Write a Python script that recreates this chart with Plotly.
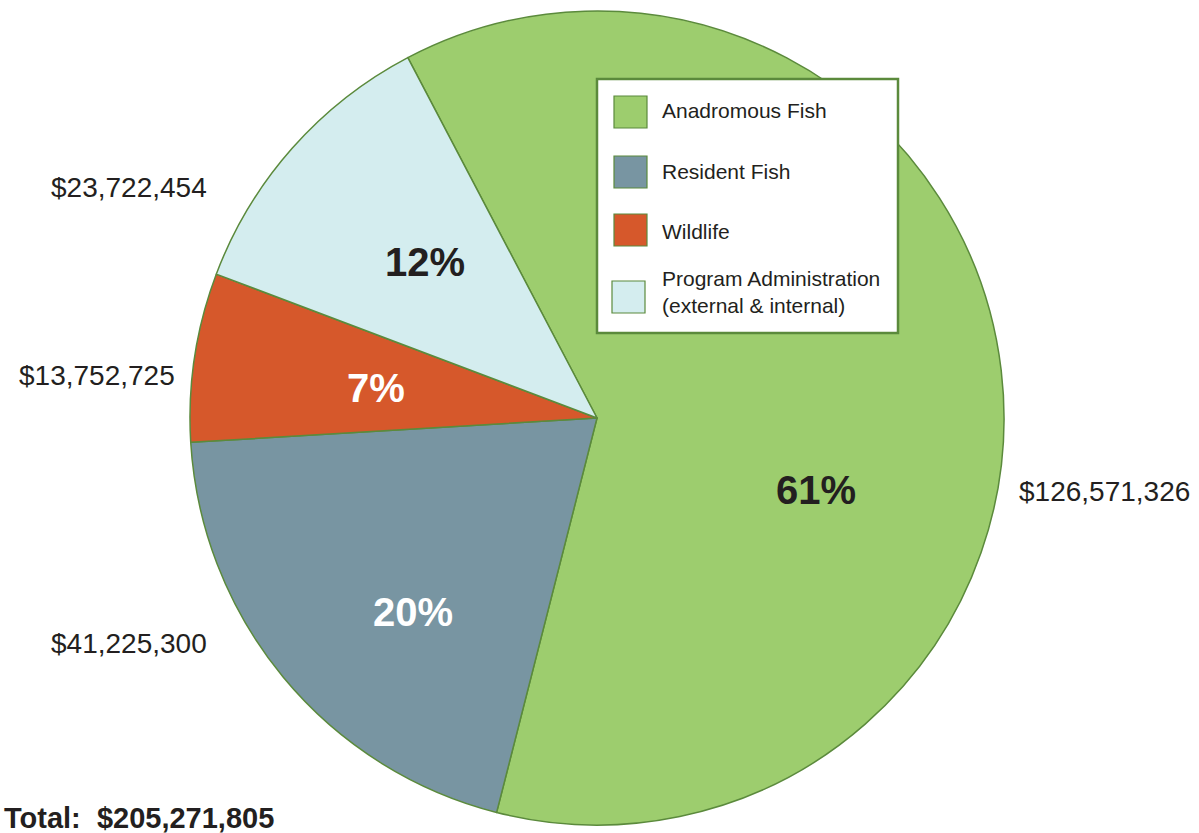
import plotly.graph_objects as go

W, H = 1199, 833

categories = ["Anadromous Fish", "Resident Fish", "Wildlife", "Program Administration<br>(external & internal)"]
values = [126571326, 41225300, 13752725, 23722454]
pct_labels = ["61%", "20%", "7%", "12%"]
dollar_labels = ["$126,571,326", "$41,225,300", "$13,752,725", "$23,722,454"]
total_label = "Total:  $205,271,805"
colors = ["#9dcd6e", "#7895a2", "#d6582b", "#d4edef"]
pct_colors = ["#231f20", "#ffffff", "#ffffff", "#231f20"]
edge = "#5b8a3c"

def px(x):
    return x / W

def py(y):
    return 1 - y / H

cx, cy, r = 597, 418, 407

fig = go.Figure()
fig.add_trace(go.Pie(
    labels=categories,
    values=values,
    sort=False,
    direction="clockwise",
    rotation=-27.7,
    marker=dict(colors=colors, line=dict(color=edge, width=1.5)),
    textinfo="none",
    hoverinfo="label+value+percent",
    showlegend=False,
    domain=dict(x=[px(cx - r), px(cx + r)], y=[py(cy + r), py(cy - r)]),
))

annotations = []
# percent labels
pct_pos = [(816, 490), (413, 612), (376, 388), (425, 262)]
for (x, y), t, c in zip(pct_pos, pct_labels, pct_colors):
    annotations.append(dict(x=px(x), y=py(y), xref="paper", yref="paper", text=f"<b>{t}</b>",
                            showarrow=False, xanchor="center", yanchor="middle",
                            font=dict(family="Liberation Sans, Arial", size=40, color=c)))
# dollar labels
dollar_pos = [(1104, 491), (129, 643), (97, 375), (129, 187)]
for (x, y), t in zip(dollar_pos, dollar_labels):
    annotations.append(dict(x=px(x), y=py(y), xref="paper", yref="paper", text=t,
                            showarrow=False, xanchor="center", yanchor="middle",
                            font=dict(family="Liberation Sans, Arial", size=28, color="#231f20")))
# total
annotations.append(dict(x=px(2), y=py(818), xref="paper", yref="paper", text=f"<b>{total_label}</b>",
                        showarrow=False, xanchor="left", yanchor="middle",
                        font=dict(family="Liberation Sans, Arial", size=29, color="#231f20")))

shapes = []
# custom legend box
shapes.append(dict(type="rect", xref="paper", yref="paper", x0=px(597), x1=px(898), y0=py(333), y1=py(79),
                   fillcolor="white", line=dict(color=edge, width=2.5), layer="above"))
leg_rows = [(614, 112), (614, 172), (614, 230), (612, 297)]
text_y = [111, 171, 231, 292]
for (sx, sy), ty, cat, col in zip(leg_rows, text_y, categories, colors):
    shapes.append(dict(type="rect", xref="paper", yref="paper", x0=px(sx), x1=px(sx + 33),
                       y0=py(sy + 16), y1=py(sy - 16), fillcolor=col,
                       line=dict(color=edge, width=1.2), layer="above"))
    annotations.append(dict(x=px(660), y=py(ty), xref="paper", yref="paper", text=cat,
                            showarrow=False, xanchor="left", yanchor="middle", align="left",
                            font=dict(family="Liberation Sans, Arial", size=21, color="#231f20")))

fig.update_layout(
    width=W, height=H, autosize=False,
    margin=dict(l=0, r=0, t=0, b=0),
    paper_bgcolor="white", plot_bgcolor="white",
    annotations=annotations, shapes=shapes,
)

fig.write_html("out.html", config={"displayModeBar": False},
               post_script="document.body.style.margin='0';document.body.style.overflow='hidden';")
